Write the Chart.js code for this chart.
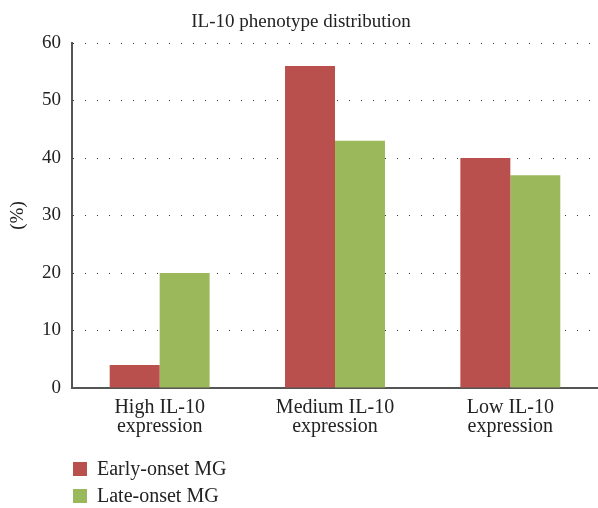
<!DOCTYPE html>
<html>
<head>
<meta charset="utf-8">
<script src="https://cdn.jsdelivr.net/npm/chart.js@4"></script>
<style>
  html, body { margin: 0; padding: 0; background: #fff; }
  #wrap { width: 598px; height: 508px; }
</style>
</head>
<body>
<div id="wrap"><canvas id="barChart"></canvas></div>
<script>
const categories = [['High IL-10', 'expression'], ['Medium IL-10', 'expression'], ['Low IL-10', 'expression']];
const earlyOnset = [4, 56, 40];
const lateOnset = [20, 43, 37];
const yTicks = [0, 10, 20, 30, 40, 50, 60];

const serif = '"Liberation Serif", "DejaVu Serif", serif';

// title and stacked legend drawn by hand
const extras = {
    id: 'extras',
    afterDraw(chart) {
        const ctx = chart.ctx;
        ctx.save();
        ctx.fillStyle = '#222';
        ctx.font = '19px ' + serif;
        ctx.textAlign = 'center';
        ctx.textBaseline = 'alphabetic';
        ctx.fillText('IL-10 phenotype distribution', 301, 27);

        ctx.textAlign = 'left';
        ctx.textBaseline = 'middle';
        ctx.font = '20px ' + serif;
        chart.data.datasets.forEach(function (ds, i) {
            const y = 462 + i * 27;
            ctx.fillStyle = ds.backgroundColor;
            ctx.fillRect(73, y, 14, 14);
            ctx.fillStyle = '#222';
            ctx.fillText(ds.label, 97, y + 8);
        });
        ctx.restore();
    }
};

const ctx = document.getElementById('barChart').getContext('2d');
new Chart(ctx, {
    type: 'bar',
    data: {
        labels: categories,
        datasets: [{
            label: 'Early-onset MG',
            data: earlyOnset,
            backgroundColor: '#B9504E',
            barPercentage: 1,
            categoryPercentage: 0.57
        }, {
            label: 'Late-onset MG',
            data: lateOnset,
            backgroundColor: '#9BB85A',
            barPercentage: 1,
            categoryPercentage: 0.57
        }]
    },
    plugins: [extras],
    options: {
        responsive: true,
        maintainAspectRatio: false,
        animation: false,
        layout: { padding: { top: 43, bottom: 60, left: 0, right: 0 } },
        plugins: {
            legend: { display: false },
            title: { display: false },
            tooltip: { enabled: false }
        },
        scales: {
            x: {
                grid: { display: false, drawTicks: false },
                border: { display: true, color: '#555', width: 2 },
                ticks: {
                    color: '#222',
                    font: { family: serif, size: 20, lineHeight: 0.95 },
                    padding: 10,
                    maxRotation: 0
                },
                afterFit: function (scale) { scale.height = 60; }
            },
            y: {
                min: 0,
                max: 60,
                afterBuildTicks: function (scale) {
                    scale.ticks = yTicks.map(function (v) { return { value: v }; });
                },
                grid: { color: '#333', lineWidth: 1, drawTicks: false },
                border: { display: true, color: '#555', width: 2, dash: [1, 11] },
                ticks: {
                    color: '#222',
                    font: { family: serif, size: 19 },
                    padding: 11
                },
                title: {
                    display: true,
                    text: '(%)',
                    color: '#222',
                    font: { family: serif, size: 19 },
                    padding: { top: 7, bottom: 0 }
                },
                afterFit: function (scale) { scale.width = 72; }
            }
        }
    }
});
</script>
</body>
</html>
